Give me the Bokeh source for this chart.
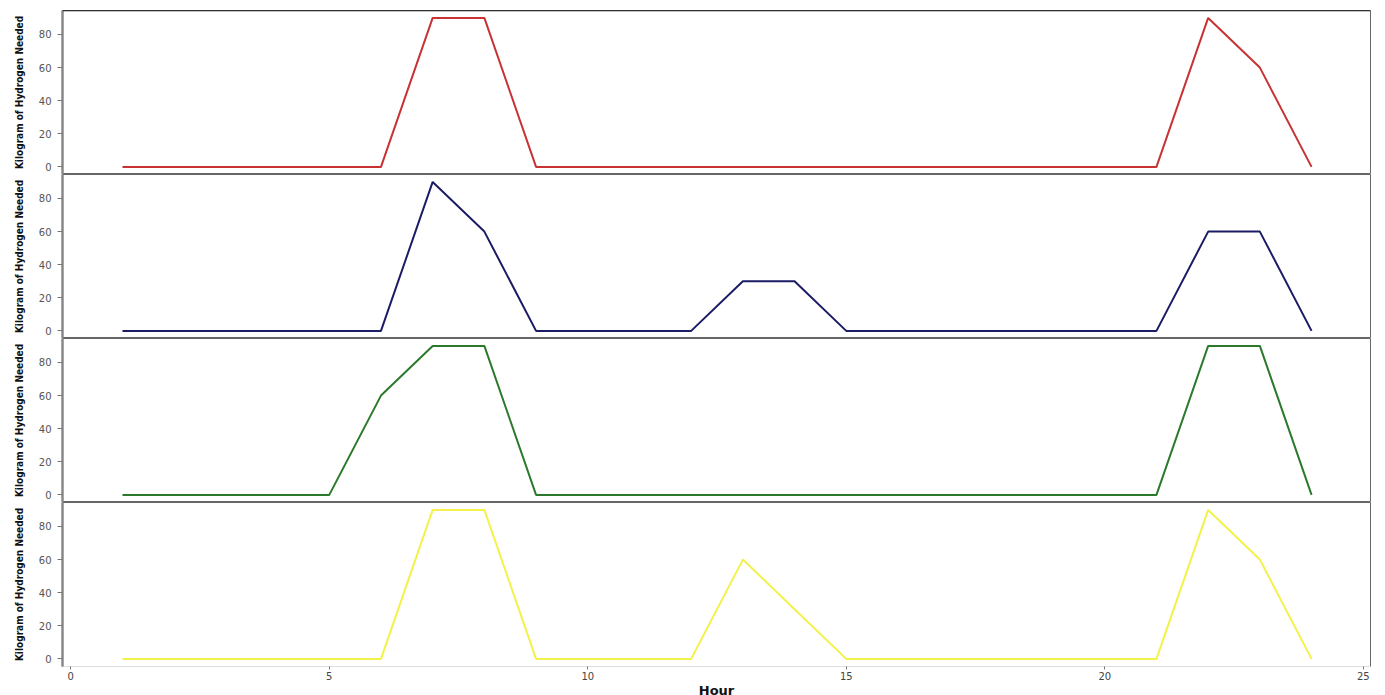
from bokeh.plotting import figure
from bokeh.layouts import column
from bokeh.models import Range1d, FixedTicker, Span
from bokeh.embed import file_html
from bokeh.resources import INLINE

hours = list(range(1, 25))
red_vals = [0, 0, 0, 0, 0, 0, 90, 90, 0, 0, 0, 0, 0, 0, 0, 0, 0, 0, 0, 0, 0, 90, 60, 0]
navy_vals = [0, 0, 0, 0, 0, 0, 90, 60, 0, 0, 0, 0, 30, 30, 0, 0, 0, 0, 0, 0, 0, 60, 60, 0]
green_vals = [0, 0, 0, 0, 0, 60, 90, 90, 0, 0, 0, 0, 0, 0, 0, 0, 0, 0, 0, 0, 0, 90, 90, 0]
yellow_vals = [0, 0, 0, 0, 0, 0, 90, 90, 0, 0, 0, 0, 60, 30, 0, 0, 0, 0, 0, 0, 0, 90, 60, 0]
series = [red_vals, navy_vals, green_vals, yellow_vals]
colors = ["#c83232", "#1c1c66", "#2b7a2b", "#f2f24a"]
y_ticks = [0, 20, 40, 60, 80]
x_ticks = [0, 5, 10, 15, 20, 25]
y_label = "Kilogram of Hydrogen Needed"
x_label = "Hour"

y_top = 94.5
x_range = Range1d(-0.16, 25.14)
figs = []
for i, (vals, col) in enumerate(zip(series, colors)):
    last = i == len(series) - 1
    p = figure(output_backend="svg", toolbar_location=None,
               frame_width=1308, frame_height=164,
               x_range=x_range, y_range=Range1d(-4.6, y_top))
    p.min_border = 0
    p.min_border_left = 62
    p.min_border_right = 5
    p.min_border_top = 10 if i == 0 else 0
    p.min_border_bottom = 0
    p.background_fill_color = "white"
    p.border_fill_color = "white"
    p.outline_line_color = "#666666"
    p.outline_line_width = 1
    p.xgrid.visible = False
    p.ygrid.visible = False
    if i == 0:
        p.add_layout(Span(location=y_top, dimension="width",
                          line_color="#000000", line_width=1.5))
    p.line(hours, vals, line_color=col, line_width=2)

    ya = p.yaxis[0]
    ya.ticker = FixedTicker(ticks=y_ticks)
    ya.axis_label = y_label
    ya.axis_label_text_font = "DejaVu Sans Condensed, Roboto, sans-serif"
    ya.axis_label_text_font_style = "bold"
    ya.axis_label_text_font_size = "10px"
    ya.axis_label_text_color = "#111111"
    ya.axis_label_standoff = 11
    ya.major_label_text_font = "DejaVu Sans"
    ya.major_label_text_font_size = "10px"
    ya.major_label_text_color = "#555555"
    ya.major_label_standoff = 6
    ya.major_tick_out = 5
    ya.major_tick_in = 0
    ya.major_tick_line_color = "#777777"
    ya.minor_tick_line_color = None
    ya.axis_line_color = "#888888"
    ya.axis_line_width = 2.5

    xa = p.xaxis[0]
    if last:
        xa.ticker = FixedTicker(ticks=x_ticks)
        xa.axis_label = x_label
        xa.axis_label_text_font = "DejaVu Sans"
        xa.axis_label_text_font_style = "bold"
        xa.axis_label_text_font_size = "13px"
        xa.axis_label_text_color = "#111111"
        xa.axis_label_standoff = 0
        xa.major_label_text_font = "DejaVu Sans"
        xa.major_label_text_font_size = "10px"
        xa.major_label_text_color = "#444444"
        xa.major_label_standoff = 2
        xa.major_tick_out = 3
        xa.major_tick_in = 0
        xa.major_tick_line_color = "#777777"
        xa.minor_tick_line_color = None
        xa.axis_line_color = "#dddddd"
    else:
        xa.visible = False
    figs.append(p)

layout = column(*figs, spacing=0)
open("out.html", "w").write(file_html(layout, INLINE))
